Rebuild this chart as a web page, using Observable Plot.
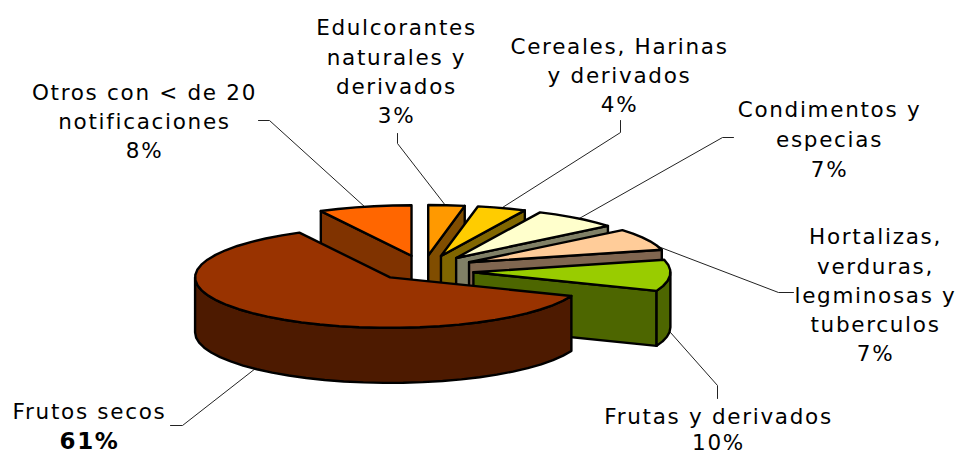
<!DOCTYPE html>
<html><head><meta charset="utf-8">
<script src="https://cdn.jsdelivr.net/npm/d3@7"></script>
<script src="https://cdn.jsdelivr.net/npm/@observablehq/plot@0.6"></script>
<style>html,body{margin:0;padding:0;background:#fff}svg{display:block}</style>
</head><body><div id="chart"></div>
<script>
const categories = ["Edulcorantes naturales y derivados","Cereales, Harinas y derivados","Condimentos y especias","Hortalizas, verduras, legminosas y tuberculos","Frutas y derivados","Frutos secos","Otros con < de 20 notificaciones"];
const percents = [3,4,7,7,10,61.3,7.7];
const topColors = ["#FF9900","#FFCC00","#FFFFCC","#FFCC99","#99CC00","#993300","#FF6600"];
const wallColors = ["#804D00","#806600","#808066","#806650","#4D6600","#4D1A00","#803300"];
const labelLines = [["Edulcorantes","naturales y","derivados"],["Cereales, Harinas","y derivados"],["Condimentos y","especias"],["Hortalizas,","verduras,","legminosas y","tuberculos"],["Frutas y derivados"],["Frutos secos"],["Otros con < de 20","notificaciones"]];
const labelX = [396,619,829,875,718,89,144];
const labelTop = [28,47,110,237,417,412,93];
const lineStep = [29.3,28.7,29.8,29.2,25.5,29,29];
const leaderX = [[397,397,445],[620,620,502],[733,722,577],[793,778,655],[717,717,670],[170,182,255],[258,269,365]];
const leaderY = [[133,143,205],[120,132,207],[137,137,219],[292,292,245],[398,385,332],[425,425,368],[120,120,207]];

// pie geometry
const cx=423, cy=267.5, ry=50.5, depth=55, explodeX=50, explodeY=12.6;
const radiusX=[195,197,197,199,197,195,195];
const shiftX=[0,2,2,1,0,0,0], shiftY=[0,0,0,0,3.5,0,0];
const rad=d=>d*Math.PI/180;
const total=d3.sum(percents);
let acc=0;
const slices=percents.map((v,i)=>{
  const a0=acc/total*360; acc+=v; const a1=acc/total*360; const m=rad((a0+a1)/2);
  return {i,a0,a1,rx:radiusX[i],ax:cx+explodeX*Math.sin(m)+shiftX[i],ay:cy-explodeY*Math.cos(m)+shiftY[i]};
});
const rim=(s,a,dz=0)=>({x:s.ax+s.rx*Math.sin(rad(a)),y:s.ay-ry*Math.cos(rad(a))+dz});
const arc=(s,a0,a1,dz=0)=>{const n=Math.max(1,Math.ceil((a1-a0)/6));return d3.range(n+1).map(k=>rim(s,a0+(a1-a0)*k/n,dz));};
const polys=[];
for(const i of [6,0,1,2,3,4,5]){
  const s=slices[i], apex={x:s.ax,y:s.ay}, low={x:s.ax,y:s.ay+depth};
  const radial=a=>polys.push({pts:[apex,rim(s,a),rim(s,a,depth),low],fill:wallColors[i]});
  if(Math.sin(rad(s.a0))<-1e-6) radial(s.a0);
  if(Math.sin(rad(s.a1))>1e-6) radial(s.a1);
  const o0=Math.max(s.a0,90),o1=Math.min(s.a1,270);
  if(o1>o0) polys.push({pts:[...arc(s,o0,o1),...arc(s,o0,o1,depth).reverse()],fill:wallColors[i]});
  polys.push({pts:[apex,...arc(s,s.a0,s.a1)],fill:topColors[i]});
}
const textRows=[];
labelLines.forEach((lines,i)=>{
  lines.forEach((t,k)=>textRows.push({t,x:labelX[i],y:labelTop[i]+k*lineStep[i],bold:false}));
  textRows.push({t:Math.round(percents[i])+"%",x:labelX[i],y:labelTop[i]+lines.length*lineStep[i],bold:i===5});
});
const leaders=leaderX.flatMap((xs,i)=>xs.map((x,k)=>({x,y:leaderY[i][k],i})));
const plot=Plot.plot({
  width:959,height:455,margin:0,
  style:{background:"#fff",fontFamily:"'DejaVu Sans',sans-serif"},
  x:{domain:[0,959],range:[0,959],axis:null},
  y:{domain:[0,455],range:[0,455],axis:null},
  marks:[
    Plot.line(leaders,{x:"x",y:"y",z:"i",stroke:"#222",strokeWidth:1}),
    ...polys.map(p=>Plot.line(p.pts,{x:"x",y:"y",curve:"linear-closed",fill:p.fill,stroke:"#000",strokeWidth:2.4,strokeLinejoin:"round"})),
    Plot.text(textRows.filter(d=>!d.bold),{x:"x",y:"y",text:"t",fontSize:21.5,fill:"#000"}),
    Plot.text(textRows.filter(d=>d.bold),{x:"x",y:"y",text:"t",fontSize:23,fontWeight:"bold",fill:"#000"})
  ]
});
plot.querySelectorAll('text').forEach(t=>t.style.letterSpacing='1.7px');
document.getElementById("chart").appendChild(plot);
</script></body></html>
